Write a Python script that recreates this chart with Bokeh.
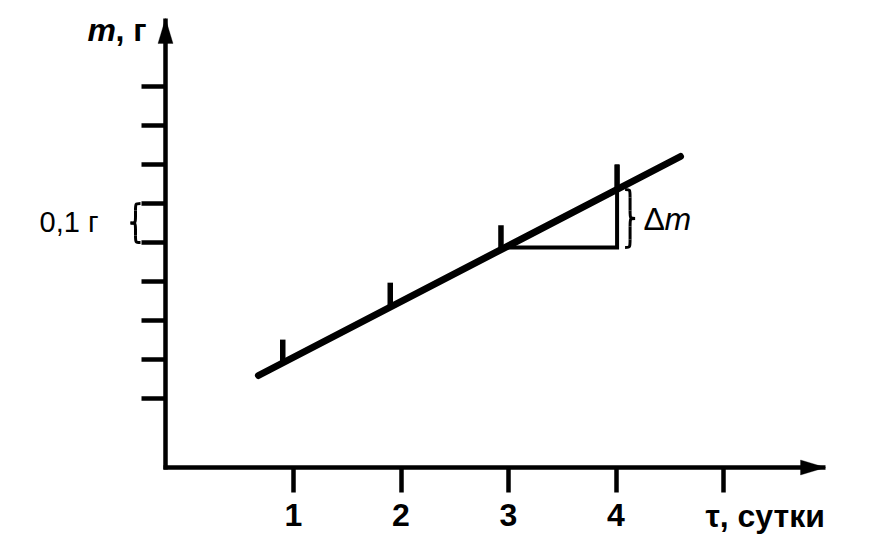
import numpy as np
from bokeh.plotting import figure
from bokeh.models import Range1d, FixedTicker, Label, PolyAnnotation
from bokeh.embed import file_html
from bokeh.resources import INLINE

# ---------------- data ----------------
TAU_POINTS = [0.90, 1.90, 2.93, 4.01]          # days
MASS_POINTS = [0.251, 0.397, 0.544, 0.700]     # g (top of each mark)
LINE_TAU = [0.674, 4.60]                       # straight line m(τ)
LINE_MASS = [0.159, 0.7205]
TRI_TAU = [2.97, 4.01]                         # Δm triangle
X_TICKS = [1, 2, 3, 4]
X_TICK_LABELS = ["1", "2", "3", "4"]
X_EXTRA_TICKS = [5]
Y_TICKS = [0.1, 0.2, 0.3, 0.4, 0.5, 0.6, 0.7, 0.8, 0.9]
X_AXIS_SPAN = (-0.1907, 5.949)     # τ extent of the horizontal axis
Y_AXIS_SPAN = (-0.0769, 1.0744)    # m extent of the vertical axis

# ---------------- layout ----------------
W, H = 888, 554
PXX = 107.5     # px per day
PXY = 390.0     # px per gram
X0_PX, Y0_PX = 185.5, 437.0   # page position of τ=0, m=0
X_RANGE = (-X0_PX / PXX, (W - X0_PX) / PXX)
Y_RANGE = ((Y0_PX - H) / PXY, Y0_PX / PXY)
FONT = "Liberation Sans"
AXW = 4.5


def tx(px):  # page pixel -> data x
    return X_RANGE[0] + px / PXX


def ty(py):  # page pixel -> data y
    return Y_RANGE[1] - py / PXY


p = figure(width=W, height=H, x_range=Range1d(*X_RANGE), y_range=Range1d(*Y_RANGE),
           output_backend="svg", toolbar_location=None,
           min_border_left=0, min_border_right=0, min_border_top=0, min_border_bottom=0)
p.title.visible = False
p.grid.visible = False
p.outline_line_color = None
p.background_fill_color = "white"
p.border_fill_color = "white"

ex = AXW / 2
xa = p.xaxis[0]
xa.fixed_location = Y_AXIS_SPAN[0]
xa.bounds = (X_AXIS_SPAN[0] - ex / PXX, X_AXIS_SPAN[1])
xa.ticker = FixedTicker(ticks=X_TICKS, minor_ticks=X_EXTRA_TICKS)
xa.major_label_overrides = {t: l for t, l in zip(X_TICKS, X_TICK_LABELS)}
xa.major_tick_in = 0
xa.major_tick_out = 25
xa.major_tick_line_width = AXW
xa.major_tick_line_color = "black"
xa.minor_tick_in = 0
xa.minor_tick_out = 25
xa.minor_tick_line_width = AXW
xa.minor_tick_line_color = "black"
xa.axis_line_width = AXW
xa.axis_line_color = "black"
xa.major_label_text_font = FONT
xa.major_label_text_font_style = "bold"
xa.major_label_text_font_size = "32px"
xa.major_label_text_color = "black"
xa.major_label_standoff = 12

ya = p.yaxis[0]
ya.fixed_location = X_AXIS_SPAN[0]
ya.bounds = (Y_AXIS_SPAN[0] - ex / PXY, Y_AXIS_SPAN[1])
ya.ticker = FixedTicker(ticks=[], minor_ticks=Y_TICKS)
ya.major_tick_line_color = None
ya.minor_tick_in = 0
ya.minor_tick_out = 24
ya.minor_tick_line_width = AXW
ya.minor_tick_line_color = "black"
ya.axis_line_width = AXW
ya.axis_line_color = "black"
ya.major_label_text_color = None

# arrow heads
ax_len, ax_half = 25, 7.5
p.add_layout(PolyAnnotation(
    xs=[X_AXIS_SPAN[1], X_AXIS_SPAN[1] - ax_len / PXX, X_AXIS_SPAN[1] - ax_len / PXX],
    ys=[Y_AXIS_SPAN[0], Y_AXIS_SPAN[0] + ax_half / PXY, Y_AXIS_SPAN[0] - ax_half / PXY],
    fill_color="black", fill_alpha=1, line_color="black", line_width=1))
p.add_layout(PolyAnnotation(
    xs=[X_AXIS_SPAN[0], X_AXIS_SPAN[0] - ax_half / PXX, X_AXIS_SPAN[0] + ax_half / PXX],
    ys=[Y_AXIS_SPAN[1], Y_AXIS_SPAN[1] - ax_len / PXY, Y_AXIS_SPAN[1] - ax_len / PXY],
    fill_color="black", fill_alpha=1, line_color="black", line_width=1))

# main line
p.line(LINE_TAU, LINE_MASS, line_width=7, line_color="black", line_cap="round")

# marks from the line up to the measured values
base = np.interp(TAU_POINTS, LINE_TAU, LINE_MASS)
p.segment(x0=TAU_POINTS, y0=base, x1=TAU_POINTS, y1=MASS_POINTS,
          line_width=5.5, line_color="black")

# Δm triangle
m_lo = float(np.interp(TRI_TAU[0], LINE_TAU, LINE_MASS))
m_hi_line = float(np.interp(TRI_TAU[1], LINE_TAU, LINE_MASS))
p.line([TRI_TAU[0], TRI_TAU[1], TRI_TAU[1]], [m_lo, m_lo, MASS_POINTS[3]],
       line_width=4, line_color="black", line_join="miter")


# braces drawn with bezier curves
def brace(xb, y0b, y1b, w_px, r_px, lw=3):
    """vertical brace; tips at xb, point at xb + w (w<0 points left)"""
    w = w_px / PXX
    r = r_px / PXY
    xs_ = xb + w / 2
    xp = xb + w
    ym = (y0b + y1b) / 2
    p.bezier(x0=[xb, xs_, xp, xs_], y0=[y1b, ym + r, ym, y0b + r],
             x1=[xs_, xp, xs_, xb], y1=[y1b - r, ym, ym - r, y0b],
             cx0=[xs_] * 4, cy0=[y1b, ym, ym, y0b],
             cx1=[xs_] * 4, cy1=[y1b, ym, ym, y0b],
             line_width=lw, line_color="black")
    p.segment(x0=[xs_, xs_], y0=[y1b - r, ym - r], x1=[xs_, xs_], y1=[ym + r, y0b + r],
              line_width=lw, line_color="black")


brace(TRI_TAU[1] + 8 / PXX, m_lo, m_hi_line, 10, 8)          # Δm
brace(tx(140), Y_TICKS[4], Y_TICKS[5], -10, 7)                # 0,1 г


# texts
def lab(x, y, text, size="32px", style="normal", align="left", baseline="alphabetic"):
    p.add_layout(Label(x=x, y=y, text=text, text_font=FONT, text_font_size=size,
                       text_font_style=style, text_align=align, text_baseline=baseline,
                       text_color="black"))


lab(tx(87), ty(29), "m", style="bold italic")
lab(tx(115), ty(29), ", г", style="bold")
lab(tx(98), ty(221), "0,1 г", size="29px", align="right")
lab(tx(643), ty(218), "Δ")
lab(tx(664), ty(218), "m", style="italic")
lab(tx(705), ty(515), "τ, сутки", style="bold")

open("out.html", "w").write(file_html(p, INLINE))
